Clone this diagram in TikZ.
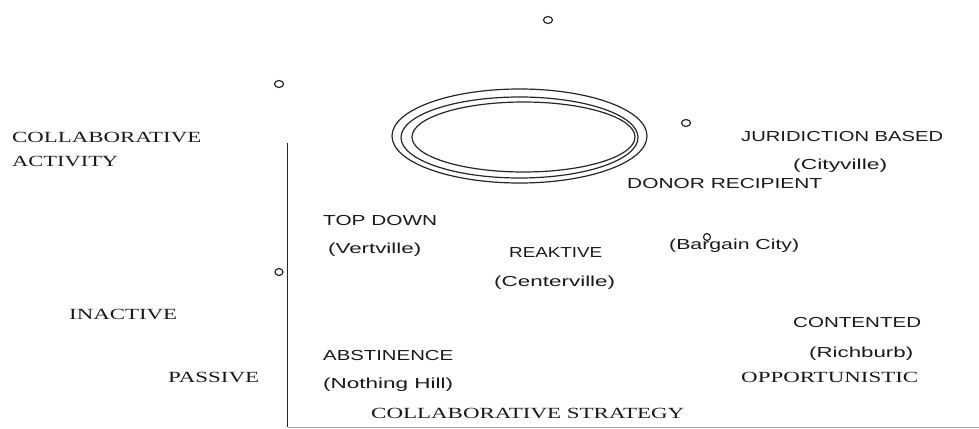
\documentclass[tikz,border=0pt]{standalone}
\usepackage{fontspec}
\usepackage{graphicx}
\setmainfont{Liberation Serif}
\setsansfont{Liberation Sans}
\newcommand{\fitw}[2]{\resizebox{#1pt}{\height}{#2}}
\tikzset{
  ser/.style={font=\fontsize{15.5}{18}\selectfont, inner sep=0pt, anchor=west, text=black!90},
  san/.style={font=\sffamily\fontsize{14.5}{17}\selectfont, inner sep=0pt, anchor=west, text=black!90},
  dot/.style={draw=black!85, line width=1.2pt},
  ring/.style={draw=black!85, line width=1.2pt},
}
\begin{document}
\begin{tikzpicture}[x=1pt,y=-1pt]
\useasboundingbox (0,0) rectangle (979,428);
% axes
\coordinate (top) at (287.5,143);
\coordinate (corner) at (287.5,427);
\coordinate (right) at (979,427);
\draw[black!85, line width=1.3pt] (top) -- (corner);
\draw[black!35, line width=1pt] (corner) -- (right);
% ellipses
\draw[ring] (519.5,136) ellipse [x radius=127.5, y radius=47];
\draw[ring] (519.5,137.5) ellipse [x radius=118.5, y radius=40.5];
\draw[ring] (523.5,137) ellipse [x radius=111.5, y radius=35];
% small circles
\draw[dot] (548,20) ellipse [x radius=4.5, y radius=3.5];
\draw[dot] (279,84) ellipse [x radius=4.5, y radius=3.5];
\draw[dot] (686,123) ellipse [x radius=4.5, y radius=3.5];
\draw[dot] (279,272) ellipse [x radius=4, y radius=3.5];
\draw[dot] (707,237) ellipse [x radius=3.5, y radius=3.5];
% serif labels
\node[ser] (ca1) at (12,137) {\fitw{189}{COLLABORATIVE}};
\node[ser] (ca2) at (12,161) {\fitw{106}{ACTIVITY}};
\node[ser] (inact) at (69,314) {\fitw{108}{INACTIVE}};
\node[ser] (pass) at (168,377) {\fitw{91}{PASSIVE}};
\node[ser] (opp) at (741,377) {\fitw{177}{OPPORTUNISTIC}};
\node[ser] (cs) at (371,413) {\fitw{313}{COLLABORATIVE STRATEGY}};
% sans labels
\node[san] (td) at (323,221) {\fitw{114}{TOP DOWN}};
\node[san] (vv) at (328,250) {\fitw{93}{(Vertville)}};
\node[san] (re) at (509,253) {\fitw{93}{REAKTIVE}};
\node[san] (cv) at (494,283) {\fitw{121}{(Centerville)}};
\node[san] (bc) at (669,246) {\fitw{130}{(Bargain City)}};
\node[san] (jb) at (741,137) {\fitw{202}{JURIDICTION BASED}};
\node[san] (cy) at (793,166) {\fitw{94}{(Cityville)}};
\node[san] (dr) at (627,184) {\fitw{195}{DONOR RECIPIENT}};
\node[san] (ct) at (793,323) {\fitw{128}{CONTENTED}};
\node[san] (rb) at (809,354) {\fitw{104}{(Richburb)}};
\node[san] (ab) at (323,356) {\fitw{130}{ABSTINENCE}};
\node[san] (nh) at (323,385) {\fitw{130}{(Nothing Hill)}};
\end{tikzpicture}
\end{document}
